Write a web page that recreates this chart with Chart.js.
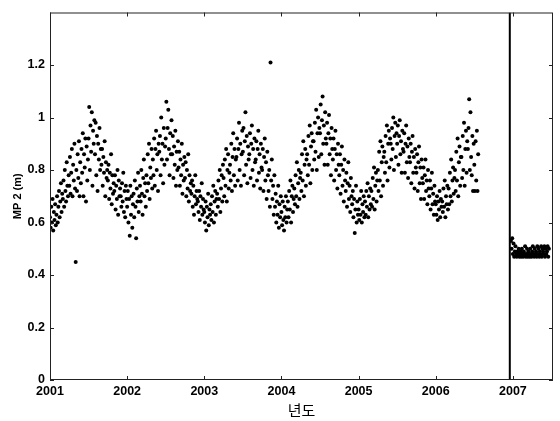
<!DOCTYPE html>
<html>
<head>
<meta charset="utf-8">
<script src="https://cdn.jsdelivr.net/npm/chart.js@4"></script>
<style>
  html, body { margin: 0; padding: 0; background: #fff; }
  #wrap { width: 560px; height: 421px; }
</style>
</head>
<body>
<div id="wrap"><canvas id="c" width="560" height="421"></canvas></div>
<script>
// daily-ish readings, one value every ~3 days (10 per month row)
const STEP = 1 / 120;

const yr2001 = [
  0.62, 0.58, 0.66, 0.60, 0.69, 0.57, 0.64, 0.61, 0.67, 0.59,
  0.63, 0.70, 0.60, 0.66, 0.72, 0.62, 0.68, 0.75, 0.64, 0.71,
  0.69, 0.76, 0.66, 0.80, 0.72, 0.68, 0.83, 0.74, 0.70, 0.78,
  0.74, 0.85, 0.71, 0.79, 0.88, 0.70, 0.82, 0.76, 0.90, 0.73,
  0.45, 0.80, 0.72, 0.86, 0.77, 0.91, 0.70, 0.83, 0.75, 0.88,
  0.79, 0.94, 0.70, 0.86, 0.81, 0.92, 0.68, 0.89, 0.76, 0.84,
  0.92, 1.04, 0.80, 0.97, 0.87, 1.02, 0.74, 0.95, 0.90, 0.99,
  0.86, 0.98, 0.78, 0.93, 0.72, 0.90, 0.84, 0.96, 0.80, 0.88,
  0.82, 0.88, 0.74, 0.85, 0.79, 0.91, 0.70, 0.83, 0.77, 0.80,
  0.76, 0.82, 0.69, 0.79, 0.73, 0.86, 0.67, 0.78, 0.71, 0.75,
  0.72, 0.78, 0.65, 0.74, 0.69, 0.80, 0.63, 0.76, 0.70, 0.73,
  0.70, 0.66, 0.75, 0.68, 0.79, 0.64, 0.72, 0.62, 0.74, 0.69,
];
const yr2002 = [
  0.66, 0.72, 0.60, 0.69, 0.55, 0.74, 0.63, 0.70, 0.58, 0.67,
  0.71, 0.62, 0.76, 0.66, 0.54, 0.73, 0.68, 0.79, 0.64, 0.70,
  0.74, 0.68, 0.80, 0.71, 0.63, 0.77, 0.84, 0.70, 0.75, 0.66,
  0.78, 0.72, 0.86, 0.75, 0.90, 0.69, 0.81, 0.77, 0.88, 0.73,
  0.84, 0.78, 0.92, 0.74, 0.88, 0.95, 0.80, 0.86, 0.72, 0.90,
  0.87, 0.93, 0.78, 1.00, 0.84, 0.90, 0.75, 0.96, 0.82, 0.89,
  0.92, 1.06, 0.84, 0.96, 1.03, 0.88, 0.78, 0.94, 0.86, 0.99,
  0.86, 0.93, 0.77, 0.89, 0.82, 0.95, 0.74, 0.87, 0.80, 0.91,
  0.81, 0.87, 0.74, 0.84, 0.78, 0.90, 0.71, 0.82, 0.76, 0.85,
  0.77, 0.83, 0.70, 0.80, 0.73, 0.86, 0.68, 0.78, 0.72, 0.75,
  0.71, 0.76, 0.66, 0.74, 0.63, 0.70, 0.78, 0.67, 0.72, 0.69,
  0.68, 0.64, 0.72, 0.61, 0.70, 0.66, 0.75, 0.63, 0.69, 0.65,
];
const yr2003 = [
  0.64, 0.60, 0.68, 0.57, 0.66, 0.62, 0.71, 0.59, 0.65, 0.63,
  0.67, 0.61, 0.70, 0.64, 0.74, 0.60, 0.68, 0.72, 0.63, 0.69,
  0.71, 0.66, 0.76, 0.69, 0.80, 0.64, 0.73, 0.78, 0.68, 0.82,
  0.77, 0.70, 0.84, 0.74, 0.88, 0.68, 0.80, 0.86, 0.73, 0.79,
  0.82, 0.76, 0.90, 0.72, 0.85, 0.94, 0.78, 0.88, 0.74, 0.84,
  0.85, 0.92, 0.76, 0.88, 0.98, 0.80, 0.90, 0.74, 0.86, 0.95,
  0.87, 0.96, 0.78, 0.91, 1.02, 0.82, 0.93, 0.75, 0.89, 0.84,
  0.86, 0.94, 0.77, 0.90, 0.97, 0.80, 0.88, 0.74, 0.92, 0.83,
  0.84, 0.91, 0.76, 0.88, 0.95, 0.79, 0.86, 0.73, 0.90, 0.81,
  0.80, 0.88, 0.72, 0.85, 0.92, 0.76, 0.83, 0.69, 0.87, 0.78,
  0.72, 0.80, 0.66, 1.21, 0.76, 0.84, 0.69, 0.74, 0.63, 0.78,
  0.66, 0.71, 0.60, 0.68, 0.63, 0.74, 0.58, 0.67, 0.62, 0.70,
];
const yr2004 = [
  0.64, 0.59, 0.68, 0.61, 0.57, 0.66, 0.62, 0.70, 0.60, 0.65,
  0.68, 0.62, 0.72, 0.65, 0.76, 0.60, 0.70, 0.74, 0.64, 0.69,
  0.73, 0.67, 0.78, 0.70, 0.83, 0.66, 0.75, 0.80, 0.69, 0.77,
  0.79, 0.72, 0.86, 0.76, 0.91, 0.70, 0.82, 0.88, 0.74, 0.84,
  0.86, 0.78, 0.93, 0.82, 0.97, 0.75, 0.89, 0.94, 0.80, 0.91,
  0.91, 0.84, 0.98, 0.87, 1.03, 0.80, 0.94, 1.00, 0.85, 0.96,
  0.94, 1.05, 0.86, 0.99, 1.08, 0.90, 0.97, 0.82, 1.02, 0.92,
  0.90, 0.98, 0.82, 0.94, 1.01, 0.86, 0.92, 0.78, 0.96, 0.88,
  0.84, 0.92, 0.76, 0.88, 0.95, 0.80, 0.86, 0.73, 0.90, 0.82,
  0.78, 0.86, 0.71, 0.82, 0.89, 0.74, 0.80, 0.68, 0.84, 0.76,
  0.72, 0.79, 0.66, 0.75, 0.83, 0.69, 0.74, 0.64, 0.77, 0.70,
  0.67, 0.72, 0.62, 0.69, 0.56, 0.65, 0.74, 0.60, 0.68, 0.63,
];
const yr2005 = [
  0.65, 0.61, 0.69, 0.63, 0.72, 0.60, 0.67, 0.64, 0.70, 0.62,
  0.68, 0.63, 0.72, 0.66, 0.75, 0.62, 0.70, 0.65, 0.73, 0.67,
  0.72, 0.66, 0.77, 0.69, 0.81, 0.65, 0.74, 0.79, 0.68, 0.76,
  0.80, 0.72, 0.87, 0.76, 0.91, 0.70, 0.83, 0.89, 0.74, 0.85,
  0.87, 0.79, 0.93, 0.83, 0.97, 0.76, 0.90, 0.95, 0.81, 0.92,
  0.90, 0.84, 0.96, 0.88, 1.00, 0.80, 0.93, 0.98, 0.85, 0.94,
  0.90, 0.97, 0.82, 0.93, 0.99, 0.86, 0.91, 0.79, 0.95, 0.88,
  0.87, 0.94, 0.79, 0.90, 0.97, 0.83, 0.89, 0.77, 0.92, 0.85,
  0.83, 0.90, 0.75, 0.87, 0.93, 0.79, 0.85, 0.73, 0.88, 0.81,
  0.79, 0.86, 0.72, 0.83, 0.89, 0.75, 0.81, 0.69, 0.84, 0.77,
  0.75, 0.81, 0.69, 0.78, 0.84, 0.72, 0.76, 0.67, 0.80, 0.73,
  0.70, 0.76, 0.65, 0.73, 0.79, 0.67, 0.71, 0.63, 0.74, 0.68,
];
const yr2006 = [
  0.67, 0.63, 0.70, 0.61, 0.68, 0.65, 0.72, 0.62, 0.69, 0.66,
  0.68, 0.64, 0.73, 0.66, 0.76, 0.62, 0.70, 0.67, 0.74, 0.65,
  0.73, 0.67, 0.79, 0.70, 0.84, 0.68, 0.76, 0.81, 0.71, 0.77,
  0.80, 0.72, 0.87, 0.76, 0.92, 0.70, 0.83, 0.89, 0.74, 0.85,
  0.85, 0.77, 0.93, 0.80, 0.98, 0.74, 0.88, 0.95, 0.79, 0.91,
  0.88, 0.96, 1.07, 0.80, 1.02, 0.85, 0.78, 0.93, 0.72, 0.90,
  0.82, 0.72, 0.91, 0.76, 0.95, 0.72, 0.86,
];
// after the break (sensor moved), starts just right of the line
const START_2007 = 2006.975;
const yr2007 = [
  0.53, 0.50, 0.54, 0.48, 0.52, 0.47, 0.49, 0.51, 0.48, 0.47,
  0.49, 0.48, 0.50, 0.47, 0.48, 0.49, 0.47, 0.50, 0.48, 0.47,
  0.49, 0.48, 0.51, 0.47, 0.48, 0.50, 0.47, 0.49, 0.48, 0.47,
  0.50, 0.48, 0.47, 0.49, 0.51, 0.48, 0.47, 0.50, 0.48, 0.49,
  0.47, 0.51, 0.48, 0.50, 0.47, 0.49, 0.48, 0.51, 0.47, 0.50,
  0.49, 0.48, 0.51, 0.47, 0.50, 0.48, 0.49, 0.51, 0.47, 0.50,
];

const BREAK_YEAR = 2006.96;
const xTicks = [2001, 2002, 2003, 2004, 2005, 2006, 2007];
const yTicks = [0, 0.2, 0.4, 0.6, 0.8, 1, 1.2];

const series = [
  [2001, yr2001], [2002, yr2002], [2003, yr2003],
  [2004, yr2004], [2005, yr2005], [2006, yr2006], [START_2007, yr2007],
];

const toPoints = (start, values) => values.map((v, i) => ({ x: start + i * STEP, y: v }));

const AXIS_FONT = { family: "'Liberation Sans', Arial, sans-serif", size: 12.5, weight: "bold" };

// MATLAB-ish box with inward tick marks
const frameTicks = {
  id: "frameTicks",
  afterDatasetsDraw(chart) {
    const { ctx, chartArea: a, scales: { x, y } } = chart;
    ctx.save();
    ctx.strokeStyle = "#222";
    ctx.lineWidth = 1;
    ctx.strokeRect(a.left + 0.5, a.top + 0.5, a.right - a.left - 1, a.bottom - a.top - 1);
    ctx.beginPath();
    xTicks.forEach((t) => {
      const px = Math.round(x.getPixelForValue(t)) + 0.5;
      ctx.moveTo(px, a.bottom); ctx.lineTo(px, a.bottom - 4);
      ctx.moveTo(px, a.top); ctx.lineTo(px, a.top + 4);
    });
    yTicks.forEach((t) => {
      const py = Math.round(y.getPixelForValue(t)) + 0.5;
      ctx.moveTo(a.left, py); ctx.lineTo(a.left + 4, py);
      ctx.moveTo(a.right, py); ctx.lineTo(a.right - 4, py);
    });
    ctx.stroke();
    ctx.restore();
  },
};

new Chart(document.getElementById("c"), {
  type: "scatter",
  data: {
    datasets: [
      ...series.map(([start, vals]) => ({
        data: toPoints(start, vals),
        pointRadius: 2,
        pointBorderWidth: 0,
        pointBackgroundColor: "#000",
      })),
      {
        type: "line",
        data: [{ x: BREAK_YEAR, y: 0 }, { x: BREAK_YEAR, y: 1.4 }],
        borderColor: "#000",
        borderWidth: 2,
        pointRadius: 0,
      },
    ],
  },
  options: {
    responsive: false,
    animation: false,
    devicePixelRatio: 1,
    layout: { padding: { top: 5, right: 7, left: 0, bottom: 0 } },
    plugins: { legend: { display: false }, tooltip: { enabled: false } },
    scales: {
      x: {
        type: "linear",
        min: 2001,
        max: 2007.52,
        afterBuildTicks: (s) => { s.ticks = xTicks.map((v) => ({ value: v })); },
        afterFit: (s) => { s.height = 41; },
        grid: { display: false, drawTicks: false },
        border: { display: false },
        ticks: { font: AXIS_FONT, color: "#000", padding: 4, maxRotation: 0, autoSkip: false, callback: (v) => String(v) },
        title: {
          display: true,
          text: "년도",
          color: "#000",
          font: { family: "'Noto Sans CJK KR', sans-serif", size: 15 },
          padding: { top: 0, bottom: 2 },
        },
      },
      y: {
        min: 0,
        max: 1.4,
        afterBuildTicks: (s) => { s.ticks = yTicks.map((v) => ({ value: v })); },
        afterFit: (s) => { s.width = 50; },
        grid: { display: false, drawTicks: false },
        border: { display: false },
        ticks: { font: AXIS_FONT, color: "#000", padding: 5, callback: (v) => String(Math.round(v * 10) / 10) },
        title: {
          display: true,
          text: "MP 2 (m)",
          color: "#000",
          font: { family: "'Liberation Sans', Arial, sans-serif", size: 11, weight: "bold" },
          padding: { top: 11, bottom: 0 },
        },
      },
    },
  },
  plugins: [frameTicks],
});
</script>
</body>
</html>
